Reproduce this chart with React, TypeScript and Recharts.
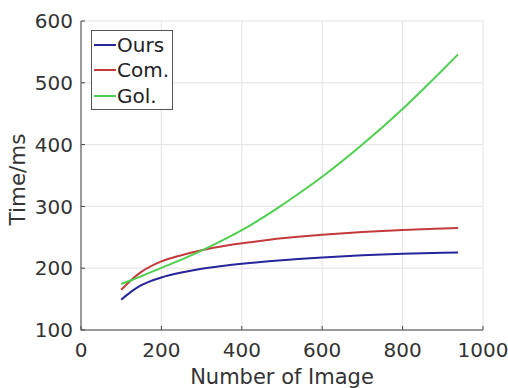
import React from 'react';
import { LineChart, Line, XAxis, YAxis, CartesianGrid, Legend } from 'recharts';

const xs = [100, 125, 150, 200, 250, 300, 370, 420, 500, 540, 600, 700, 800, 900, 938];
const ours = [149, 162, 172.5, 185, 193, 199, 205, 208.5, 213, 215, 217.5, 220.8, 223.2, 225, 225.5];
const com = [165, 181, 194, 211, 221, 229, 237.5, 242, 248.5, 251, 254.2, 258.6, 261.9, 264.3, 265.1];
const gol = [174.5, 180.5, 187, 200.5, 214, 228.5, 251, 269, 302, 320, 348, 400, 457.5, 521, 546];
const xTicks = [0, 200, 400, 600, 800, 1000];
const yTicks = [100, 200, 300, 400, 500, 600];

const series = [
  { key: 'ours', name: 'Ours', color: '#25259c', values: ours },
  { key: 'com', name: 'Com.', color: '#c43a3a', values: com },
  { key: 'gol', name: 'Gol.', color: '#4fcf4f', values: gol },
];

const data = xs.map((x, i) => {
  const row: any = { x };
  series.forEach((s) => (row[s.key] = s.values[i]));
  return row;
});

const FONT = '"DejaVu Sans", Verdana, sans-serif';
const TXT = '#333333';
const AX = '#444444';

const LegendBox = (props: any) => {
  const payload = [...(props.payload || [])].sort(
    (a: any, b: any) =>
      series.findIndex((s) => s.name === a.value) - series.findIndex((s) => s.name === b.value)
  );
  return (
    <div
      style={{
        border: '1px solid #555',
        background: '#fff',
        width: 82,
        height: 80,
        padding: '1px 0 0 0',
        fontFamily: FONT,
        fontSize: 20,
        color: '#222',
        boxSizing: 'border-box',
      }}
    >
      {payload.map((p: any) => (
        <div key={p.value} style={{ display: 'flex', alignItems: 'center', height: 25.5 }}>
          <div style={{ width: 22, height: 2, background: p.color, marginLeft: 2, marginRight: 1 }} />
          <span style={{ lineHeight: '24px' }}>{p.value}</span>
        </div>
      ))}
    </div>
  );
};

export default function App() {
  return (
    <div style={{ position: 'absolute', left: 0, top: 0, width: 508, height: 388, background: '#fff' }}>
      <LineChart width={508} height={388} data={data} margin={{ top: 21, right: 25, bottom: 0, left: 0 }}>
        <CartesianGrid stroke="#e3e3e3" strokeWidth={1} />
        <XAxis
          dataKey="x"
          type="number"
          domain={[0, 1000]}
          ticks={xTicks}
          height={58}
          stroke={AX}
          tickSize={-4}
          tickMargin={17}
          tick={{ fill: TXT, fontSize: 20, fontFamily: FONT }}
          label={(p: any) => {
            const vb = p.viewBox;
            return (
              <text
                x={vb.x + vb.width / 2}
                y={vb.y + 54}
                textAnchor="middle"
                fill={TXT}
                style={{ fontFamily: FONT, fontSize: 21 }}
              >
                Number of Image
              </text>
            );
          }}
        />
        <XAxis xAxisId="top" orientation="top" type="number" domain={[0, 1000]} ticks={xTicks} height={0} stroke={AX} tickSize={-4} tick={false} />
        <YAxis
          type="number"
          domain={[100, 600]}
          ticks={yTicks}
          width={81}
          stroke={AX}
          tickSize={-4}
          tickMargin={12}
          tick={{ fill: TXT, fontSize: 20, fontFamily: FONT }}
          label={(p: any) => {
            const vb = p.viewBox;
            const cx = vb.x + 17.5;
            const cy = vb.y + vb.height / 2 + 4;
            return (
              <text
                x={cx}
                y={cy}
                transform={`rotate(-90 ${cx} ${cy})`}
                textAnchor="middle"
                dominantBaseline="central"
                fill={TXT}
                style={{ fontFamily: FONT, fontSize: 21.5 }}
              >
                Time/ms
              </text>
            );
          }}
        />
        <YAxis yAxisId="right" orientation="right" type="number" domain={[100, 600]} ticks={yTicks} width={0} stroke={AX} tickSize={-4} tick={false} />
        <Legend
          layout="vertical"
          verticalAlign="middle"
          align="center"
          content={<LegendBox />}
          wrapperStyle={{ position: 'absolute', left: 91, top: 30, width: 82, height: 80 }}
        />
        {series.map((s) => (
          <Line
            key={s.key}
            dataKey={s.key}
            name={s.name}
            type="monotone"
            stroke={s.color}
            strokeWidth={2}
            dot={false}
            isAnimationActive={false}
          />
        ))}
      </LineChart>
    </div>
  );
}
